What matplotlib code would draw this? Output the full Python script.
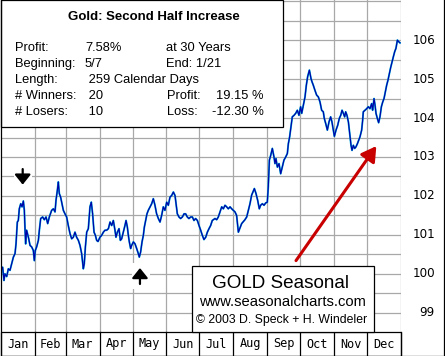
import matplotlib
matplotlib.use("Agg")
import matplotlib.pyplot as plt
from matplotlib.patches import Rectangle
from matplotlib.transforms import blended_transform_factory

# ---------------- data ----------------
days = [0.0, 1.5, 2.7, 3.6, 5.2, 6.7, 8.2, 9.7, 11.3, 12.8, 13.7, 14.3, 14.9, 15.8, 16.7, 18.0, 19.2, 20.4, 21.3, 21.9,
        22.5, 23.4, 25.0, 26.5, 28.0, 29.5, 30.4, 31.3, 32.5, 34.1, 35.0, 36.2, 38.0, 39.5, 41.1, 42.6, 44.1, 46.2, 47.8, 49.3,
        50.2, 51.4, 52.3, 53.2, 54.4, 55.7, 56.9, 58.4, 59.9, 61.4, 63.0, 64.5, 66.0, 67.5, 69.0, 70.6, 72.1, 73.6, 75.1, 76.0,
        77.0, 78.2, 79.7, 81.2, 82.4, 83.6, 84.9, 86.1, 87.3, 88.5, 90.3, 91.9, 93.4, 94.9, 96.4, 98.0,
        99.5, 101.0, 102.5, 104.0, 104.9, 106.2, 107.7, 108.9, 110.1, 111.6, 113.1, 114.1, 115.3, 116.2, 117.1, 118.3, 119.2,
        120.8, 122.3, 123.8, 125.3, 126.2, 127.4, 128.7, 129.9, 130.8, 132.0, 133.2, 134.4, 136.0, 137.5, 139.0, 140.5, 142.0,
        143.6, 145.1, 146.6, 148.1, 149.6, 151.2, 152.7, 154.2, 155.7, 157.3, 158.8, 159.7, 160.9, 162.4, 163.9, 165.5, 167.0,
        168.5, 170.0, 171.5, 173.1, 174.6, 176.1, 177.6, 179.2, 180.7, 182.2, 183.7, 185.2, 186.8, 188.3, 189.8, 191.3, 192.8,
        193.8, 195.3, 196.8, 198.3, 199.8, 201.4, 202.9, 204.4, 205.9, 207.4, 209.0, 210.5, 212.0, 213.5, 215.0, 216.6, 219.6,
        222.6, 224.2, 225.7, 227.2, 228.7, 231.2, 232.7, 234.2, 235.7, 236.9, 238.5, 240.0, 241.5, 243.0, 243.9, 244.9, 246.1,
        247.6, 249.1, 250.0, 250.9, 252.2, 253.7, 255.2, 256.7, 258.2, 259.8, 261.3, 262.2, 263.4, 264.6, 265.8, 267.4, 268.9,
        270.4, 271.9, 273.4, 274.4, 275.9, 277.4, 278.6, 279.8, 281.4, 282.9,
        283.8, 285.0, 286.5, 288.0, 289.6, 291.1, 292.6, 294.1, 295.0, 296.3, 297.8, 299.3, 300.8, 302.0, 303.3, 304.2, 305.7,
        307.2, 308.7, 310.0, 311.2, 312.4, 313.6, 314.5, 315.7, 317.0, 318.2, 319.4, 320.3, 321.5, 322.7, 323.9, 325.2, 326.4,
        327.6, 329.1, 330.0, 330.6, 332.2, 333.7, 335.2, 336.7, 338.2, 339.1, 340.4, 341.3, 342.2, 343.4, 344.6, 345.8, 347.1,
        348.3, 349.5, 350.7, 351.9, 353.1, 354.4, 355.6, 356.8, 358.0, 359.2, 360.4, 361.7, 362.9, 364.1]
values = [100.09, 100.17, 99.83, 100.00, 99.93, 100.13, 100.09, 100.26, 100.43, 100.52, 100.77, 101.03, 101.33, 101.37, 101.67,
          101.80, 101.72, 101.87, 101.63, 101.16, 100.77, 101.12, 100.94, 100.73, 100.69, 100.60, 100.34, 100.60, 100.69,
          100.86, 101.12, 101.42, 101.46, 101.39, 101.46, 101.29, 101.46, 101.63, 101.67, 101.59, 101.89, 102.14, 102.36,
          102.06, 101.97, 101.80, 101.63, 101.54, 101.46, 101.24, 101.03, 100.90, 100.94, 101.07, 100.94, 100.86, 100.73,
          100.52, 100.13, 100.26, 100.69, 101.07, 101.16, 101.72, 101.84, 101.54, 101.07, 100.99, 100.86, 100.83, 100.94,
          100.99, 101.07, 101.12, 101.12, 101.16,
          101.33, 101.24, 101.37, 101.12, 100.94, 101.07, 101.16, 100.86, 100.90, 101.07, 101.24, 101.37, 101.20, 100.99,
          100.82, 100.65, 100.73, 100.82, 100.77, 100.65, 100.52, 100.43, 100.56, 100.82, 100.99, 101.20, 101.37, 101.54,
          101.63, 101.72, 101.80, 101.93, 101.76, 101.54, 101.42, 101.33, 101.50, 101.72, 101.63, 101.84, 101.76, 101.97,
          102.01, 102.10, 102.01, 101.80, 101.54, 101.46, 101.42, 101.46, 101.54, 101.54, 101.46, 101.42, 101.46, 101.46,
          101.37, 101.42, 101.37, 101.24, 101.12, 100.99, 100.88, 100.94, 101.07, 101.16, 101.24, 101.37,
          101.39, 101.42, 101.39, 101.46, 101.59, 101.72, 101.67, 101.76, 101.72, 101.67, 101.72, 101.67, 101.63, 101.59,
          101.50, 101.07, 101.29, 101.39, 101.46, 101.63, 101.80, 102.02, 102.19, 102.06, 101.89, 101.67, 101.76, 101.80,
          101.76, 101.82, 101.84, 102.23, 102.92, 103.04, 103.22, 103.00, 102.83, 102.96, 102.74, 102.83, 102.57, 102.74,
          102.92, 103.00, 103.09, 103.34, 103.52, 103.77, 104.03, 104.07, 104.12, 104.20, 104.07, 104.29, 104.12, 104.33,
          104.54, 104.84, 105.06, 105.23, 105.01,
          104.93, 104.84, 104.71, 104.59, 104.54, 104.41, 104.20, 104.16, 103.99, 103.86, 103.69, 103.90, 104.03, 103.90,
          103.69, 103.53, 103.69, 103.81, 103.99, 104.07, 104.20, 104.12, 104.03, 104.16, 104.07, 103.90, 103.60, 103.30,
          103.17, 103.30, 103.22, 103.26, 103.34, 103.43, 103.52, 103.69, 103.94, 104.16, 104.20, 104.24, 104.29, 104.24,
          104.37, 104.20, 104.50, 104.33, 104.12, 103.99, 103.88, 104.03, 104.29, 104.41, 104.50, 104.67, 104.84, 104.97,
          105.14, 105.30, 105.44, 105.57, 105.70, 105.79, 106.00, 105.96, 105.93]

months = ["Jan", "Feb", "Mar", "Apr", "May", "Jun", "Jul", "Aug", "Sep", "Oct", "Nov", "Dec"]
month_starts = [0, 31, 59, 90, 120, 151, 181, 212, 243, 273, 304, 334, 365]
ytick_values = [99, 100, 101, 102, 103, 104, 105, 106]

title = "Gold: Second Half Increase"
info_rows = [
    ("Profit:", "7.58%", "at 30 Years", ""),
    ("Beginning:", "5/7", "End: 1/21", ""),
    ("Length:", " 259 Calendar Days", "", ""),
    ("# Winners:", " 20", "Profit:", "19.15 %"),
    ("# Losers:", " 10", "Loss:", "-12.30 %"),
]
brand = ["GOLD Seasonal", "www.seasonalcharts.com", "\u00a9 2003 D. Speck + H. Windeler"]

# ---------------- figure ----------------
W, H = 445, 356
fig = plt.figure(figsize=(W / 100, H / 100), dpi=100)
fig.patch.set_facecolor("white")


def fx(p):
    return p / W


def fy(p):
    return 1 - p / H


ax = fig.add_axes([fx(1), fy(331.5), fx(400), 331.5 / H])
ax.set_xlim(0, 365)
ax.set_ylim(98.52, 107.03)
ax.axis("off")

grid_c = "#A8A8A8"
gl = 0.9
y = 99.0
while y < 107.02:
    ax.axhline(y, color=grid_c, lw=gl, zorder=1)
    y += 0.5
for d in month_starts[1:]:
    ax.axvline(d, color=grid_c, lw=gl, zorder=1)

# data line (cyan shadow + dark blue)
ax.plot(days, values, color="#00B4DC", lw=1.35, zorder=3)
ax.plot(days, values, color="#0000A8", lw=0.85, zorder=4)

# black arrows with white backgrounds
ax.add_patch(Rectangle((11.9, 102.2), 16.4, 0.59, facecolor="white", edgecolor="none", zorder=2))
ax.add_patch(Rectangle((119.3, 99.62), 16.6, 0.65, facecolor="white", edgecolor="none", zorder=2))
ax.annotate("", xy=(19.8, 102.29), xytext=(19.8, 102.69),
            arrowprops=dict(arrowstyle="-|>,head_length=0.4,head_width=0.32", color="black", lw=1.6,
                            mutation_scale=15, shrinkA=0, shrinkB=0), zorder=5)
ax.annotate("", xy=(126.8, 100.15), xytext=(126.8, 99.74),
            arrowprops=dict(arrowstyle="-|>,head_length=0.4,head_width=0.32", color="black", lw=1.6,
                            mutation_scale=15, shrinkA=0, shrinkB=0), zorder=5)

# red arrow
ax.annotate("", xy=(342.5, 103.28), xytext=(269.2, 100.34),
            arrowprops=dict(arrowstyle="-|>,head_length=0.55,head_width=0.32", color="#C80000", lw=2.2,
                            mutation_scale=16, shrinkA=0, shrinkB=0), zorder=5)

# right-hand value labels
tr = blended_transform_factory(ax.transAxes, ax.transData)
for v in ytick_values:
    ax.text(1.085, v, str(v), transform=tr, ha="right", va="center",
            fontsize=8.6, family="DejaVu Sans", color="black")

# month row (drawn in the axes, outside its area)
mt = blended_transform_factory(ax.transData, fig.transFigure)
ax.add_patch(Rectangle((0, fy(355.5)), 365, (355.5 - 331.5) / H, transform=mt, facecolor="white",
                       edgecolor="black", lw=0.9, zorder=6, clip_on=False))
for i, m in enumerate(months):
    a, b = month_starts[i], month_starts[i + 1]
    ax.text((a + b) / 2, fy(344), m, transform=mt, ha="center", va="center",
            fontsize=8.6, family="DejaVu Sans Mono", zorder=7, clip_on=False)
    ax.plot([b, b], [fy(331.5), fy(355.5)], transform=mt, color="black", lw=0.9, zorder=7, clip_on=False)

# outer frame (left, bottom, right)
fig.add_artist(plt.Line2D([fx(0.5), fx(0.5), fx(443.5), fx(443.5)], [fy(0), fy(355.5), fy(355.5), fy(0)],
                          transform=fig.transFigure, color="black", lw=0.9, zorder=8))

# info box
fig.add_artist(Rectangle((fx(0.5), fy(127)), fx(282.5), 127 / H, transform=fig.transFigure,
                         facecolor="white", edgecolor="black", lw=0.9, zorder=6))
fig.text(fx(154), fy(16.7), title, ha="center", va="center", fontsize=9.5, fontweight="bold",
         family="Liberation Sans", zorder=7)
row_y = [48.3, 64.0, 80.0, 96.0, 111.7]
for (c1, c2, c3, c4), yy in zip(info_rows, row_y):
    fig.text(fx(15.5), fy(yy), c1, ha="left", va="center", fontsize=9.3, family="Liberation Sans", zorder=7)
    fig.text(fx(85), fy(yy), c2, ha="left", va="center", fontsize=9.3, family="Liberation Sans", zorder=7)
    if c3:
        fig.text(fx(166.5), fy(yy), c3, ha="left", va="center", fontsize=9.3, family="Liberation Sans", zorder=7)
    if c4:
        fig.text(fx(264), fy(yy), c4, ha="right", va="center", fontsize=9.3, family="Liberation Sans", zorder=7)

# brand box
fig.add_artist(Rectangle((fx(191.5), fy(331.5)), fx(182), (331.5 - 266) / H, transform=fig.transFigure,
                         facecolor="white", edgecolor="black", lw=0.9, zorder=6))
fig.text(fx(281), fy(283.5), brand[0], ha="center", va="center", fontsize=13.6, family="Liberation Sans", zorder=7)
fig.text(fx(282), fy(302.5), brand[1], ha="center", va="center", fontsize=10.6, family="Liberation Sans", zorder=7)
fig.text(fx(282), fy(320.5), brand[2], ha="center", va="center", fontsize=8.8, family="Liberation Sans", zorder=7)

fig.savefig("out.png", dpi=100, facecolor="white")
